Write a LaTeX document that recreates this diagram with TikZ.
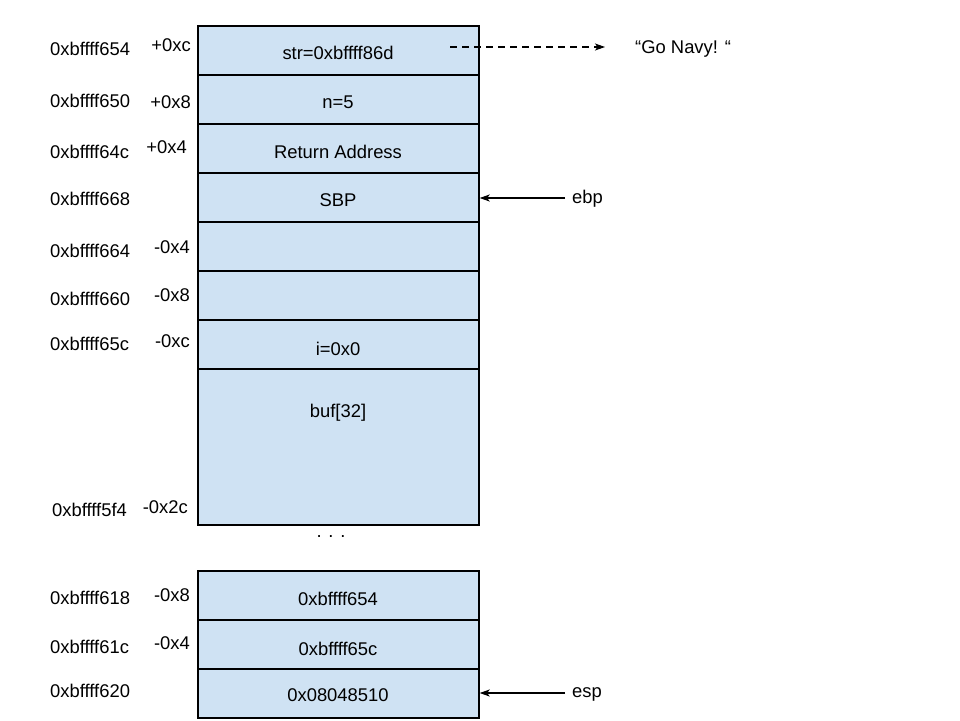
\documentclass[tikz,border=0pt]{standalone}
\usepackage{fontspec}
\setmainfont{Liberation Sans}
\usetikzlibrary{arrows.meta}
\definecolor{cellblue}{HTML}{CFE2F3}
\begin{document}
\begin{tikzpicture}[x=1pt,y=-1pt,
  every node/.style={inner sep=0pt,font=\fontsize{18.4}{22}\selectfont},
  cell/.style={draw=black,line width=1.7pt,fill=cellblue,rectangle,minimum width=281pt,anchor=north west},
  addr/.style={anchor=west},
  offs/.style={anchor=east},
  ptr/.style={line width=1.1pt,-{Stealth[length=10pt,width=7pt,inset=2.5pt]}}]
\useasboundingbox (0,0) rectangle (960,720);
% top block
\node[cell,minimum height=49pt] (c1) at (197,25) {};
\node[cell,minimum height=49pt] (c2) at (197,74) {};
\node[cell,minimum height=49pt] (c3) at (197,123) {};
\node[cell,minimum height=49pt] (c4) at (197,172) {};
\node[cell,minimum height=49pt] (c5) at (197,221) {};
\node[cell,minimum height=49pt] (c6) at (197,270) {};
\node[cell,minimum height=49pt] (c7) at (197,319) {};
\node[cell,minimum height=156pt] (c8) at (197,368) {};
% bottom block
\node[cell,minimum height=49pt] (d1) at (197,570) {};
\node[cell,minimum height=49pt] (d2) at (197,619) {};
\node[cell,minimum height=49pt] (d3) at (197,668) {};
% cell texts
\node (t1) at (338,53) {str=0xbffff86d};
\node (t2) at (338,102) {n=5};
\node (t3) at (338,152) {Return Address};
\node (t4) at (338,200) {SBP};
\node (t7) at (338,349) {i=0x0};
\node (t8) at (338,413) {buf[32]};
\node (u1) at (338,599) {0xbffff654};
\node (u2) at (338,649) {0xbffff65c};
\node (u3) at (338,695) {0x08048510};
\node (dots) at (331,537) {. . .};
% addresses
\node[addr] (a1) at (50,49) {0xbffff654};
\node[addr] (a2) at (50,101) {0xbffff650};
\node[addr] (a3) at (50,152) {0xbffff64c};
\node[addr] (a4) at (50,199) {0xbffff668};
\node[addr] (a5) at (50,251) {0xbffff664};
\node[addr] (a6) at (50,299) {0xbffff660};
\node[addr] (a7) at (50,344) {0xbffff65c};
\node[addr] (a8) at (52,510) {0xbffff5f4};
\node[addr] (a9) at (50,598) {0xbffff618};
\node[addr] (a10) at (50,647) {0xbffff61c};
\node[addr] (a11) at (50,691) {0xbffff620};
% offsets
\node[offs] (o1) at (191,45) {+0xc};
\node[offs] (o2) at (191,102) {+0x8};
\node[offs] (o3) at (187,147) {+0x4};
\node[offs] (o5) at (190,247) {-0x4};
\node[offs] (o6) at (190,295) {-0x8};
\node[offs] (o7) at (190,341) {-0xc};
\node[offs] (o8) at (188,507) {-0x2c};
\node[offs] (o9) at (190,595) {-0x8};
\node[offs] (o10) at (190,643) {-0x4};
% pointers
\coordinate (s0) at (450,47);
\coordinate (s1) at (605,47);
\node[anchor=west] (gonavy) at (635,49) {“Go Navy! “};
\draw[ptr,dash pattern=on 7pt off 5pt] (s0) -- (s1);
\node[anchor=west] (ebp) at (572,199) {ebp};
\draw[ptr] (565,198) -- (c4.east |- 0,198);
\node[anchor=west] (esp) at (572,694) {esp};
\draw[ptr] (565,693) -- (d3.east |- 0,693);
\end{tikzpicture}
\end{document}
